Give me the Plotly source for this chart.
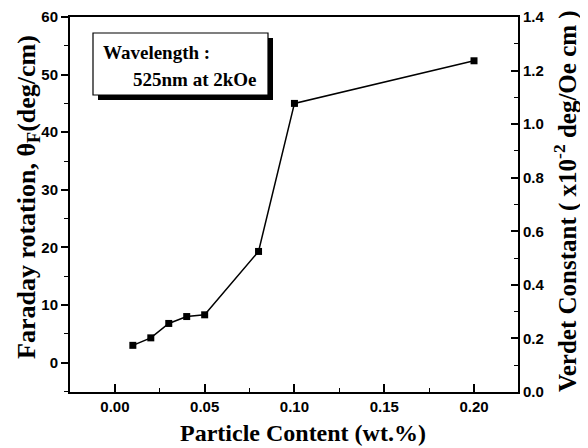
import plotly.graph_objects as go

# Data
content = [0.01, 0.02, 0.03, 0.04, 0.05, 0.08, 0.10, 0.20]
faraday = [3.0, 4.3, 6.8, 8.0, 8.3, 19.3, 45.0, 52.4]

x_ticks = [0.00, 0.05, 0.10, 0.15, 0.20]
x_ticklabels = ["0.00", "0.05", "0.10", "0.15", "0.20"]
y_ticks = [0, 10, 20, 30, 40, 50, 60]
y_ticklabels = ["0", "10", "20", "30", "40", "50", "60"]
y2_ticks = [0.0, 0.2, 0.4, 0.6, 0.8, 1.0, 1.2, 1.4]
y2_ticklabels = ["0.0", "0.2", "0.4", "0.6", "0.8", "1.0", "1.2", "1.4"]

x_title = "Particle Content (wt.%)"
y_title = "Faraday rotation, θ<sub>F</sub>(deg/cm)"
y2_title = "Verdet Constant ( x10<sup>-2</sup> deg/Oe cm )"

def bold(labels):
    return ["<b>%s</b>" % s for s in labels]

SERIF = "Liberation Serif, Times New Roman"
TICKFONT = dict(family="Liberation Sans, Arial", size=15, color="black")

fig = go.Figure()
fig.add_trace(go.Scatter(
    x=content, y=faraday, mode="lines+markers",
    line=dict(color="black", width=1.5),
    marker=dict(symbol="square", size=7, color="black"),
    showlegend=False, yaxis="y",
))
# empty trace to show the right axis
fig.add_trace(go.Scatter(x=[None], y=[None], yaxis="y2", showlegend=False, hoverinfo="skip"))

# page body has an 8px margin, so the figure is 8px smaller and shifted
fig.update_layout(
    width=580, height=440,
    margin=dict(l=62, r=70, t=9, b=56, autoexpand=False),
    paper_bgcolor="white", plot_bgcolor="white",
    xaxis=dict(
        range=[-0.025, 0.2245], tickvals=x_ticks, ticktext=bold(x_ticklabels),
        ticks="inside", ticklen=8, tickwidth=1.5, tickcolor="black",
        minor=dict(dtick=0.025, tick0=0, ticks="inside", ticklen=4, tickwidth=1.2, tickcolor="black"),
        showline=True, linecolor="black", linewidth=2, mirror=True,
        showgrid=False, zeroline=False, automargin=False,
        tickfont=TICKFONT,
    ),
    yaxis=dict(
        range=[-5.1, 60], tickvals=y_ticks, ticktext=bold(y_ticklabels),
        ticks="outside", ticklen=7, tickwidth=1.5, tickcolor="black",
        minor=dict(dtick=5, tick0=0, ticks="outside", ticklen=4, tickwidth=1.2, tickcolor="black"),
        showline=True, linecolor="black", linewidth=2,
        showgrid=False, zeroline=False, automargin=False,
        tickfont=TICKFONT,
    ),
    yaxis2=dict(
        overlaying="y", side="right", anchor="x",
        range=[0, 1.4], tickvals=y2_ticks, ticktext=bold(y2_ticklabels),
        ticks="inside", ticklen=7, tickwidth=1.5, tickcolor="black",
        minor=dict(dtick=0.1, tick0=0, ticks="inside", ticklen=4, tickwidth=1.2, tickcolor="black"),
        showline=True, linecolor="black", linewidth=2,
        showgrid=False, zeroline=False, automargin=False,
        tickfont=TICKFONT,
    ),
)

# paper coords; plot area spans page px 70..518 (x), 17..392 (y)
def px_x(p):
    return (p - 70) / 448.0

def px_y(p):
    return (392 - p) / 375.0

# axis titles
fig.add_annotation(xref="paper", yref="paper", x=px_x(303), y=px_y(433),
                   text="<b>%s</b>" % x_title, showarrow=False, xanchor="center", yanchor="middle",
                   font=dict(family=SERIF, size=24, color="black"))
fig.add_annotation(xref="paper", yref="paper", x=px_x(28), y=px_y(197),
                   text="<b>%s</b>" % y_title, showarrow=False, textangle=-90,
                   xanchor="center", yanchor="middle",
                   font=dict(family=SERIF, size=26, color="black"))
fig.add_annotation(xref="paper", yref="paper", x=px_x(565), y=px_y(201),
                   text="<b>%s</b>" % y2_title, showarrow=False, textangle=-90,
                   xanchor="center", yanchor="middle",
                   font=dict(family=SERIF, size=25, color="black"))

# Annotation box with drop shadow
fig.add_shape(type="rect", xref="paper", yref="paper",
              x0=px_x(98), x1=px_x(273), y0=px_y(100), y1=px_y(38),
              fillcolor="black", line=dict(width=0), layer="above")
fig.add_shape(type="rect", xref="paper", yref="paper",
              x0=px_x(93), x1=px_x(268), y0=px_y(95), y1=px_y(33),
              fillcolor="white", line=dict(color="black", width=1.2), layer="above")
BOXFONT = dict(family=SERIF, size=19, color="black")
fig.add_annotation(xref="paper", yref="paper", x=px_x(101), y=px_y(53),
                   text="<b>Wavelength :</b>", showarrow=False, xanchor="left", yanchor="middle", font=BOXFONT)
fig.add_annotation(xref="paper", yref="paper", x=px_x(131), y=px_y(79),
                   text="<b>525nm at 2kOe</b>", showarrow=False, xanchor="left", yanchor="middle", font=BOXFONT)

fig.write_html("out.html")
